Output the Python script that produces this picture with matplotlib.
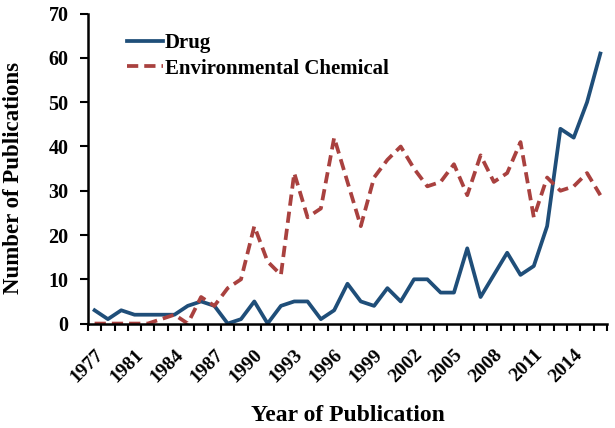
import matplotlib
matplotlib.use("Agg")
import matplotlib.pyplot as plt
import numpy as np

years = [1977] + list(range(1979, 2017))
drug = [3, 1, 3, 2, 2, 2, 2, 4, 5, 4, 0, 1, 5, 0, 4, 5, 5, 1, 3, 9,
        5, 4, 8, 5, 10, 10, 7, 7, 17, 6, 11, 16, 11, 13, 22, 44, 42, 50, 61]
env = [0, 0, 0, 0, 0, 1, 2, 0, 6, 4, 8, 10, 22, 14, 11, 34, 24, 26, 42, 32,
       22, 33, 37, 40, 35, 31, 32, 36, 29, 38, 32, 34, 41, 24, 33, 30, 31, 34, 29]
label_years = [1977, 1981, 1984, 1987, 1990, 1993, 1996, 1999, 2002, 2005, 2008, 2011, 2014]

plt.rcParams['font.family'] = ['Liberation Serif', 'DejaVu Serif']
plt.rcParams['font.weight'] = 'bold'

fig = plt.figure(figsize=(6.15, 4.28), dpi=100)
ax = fig.add_axes([0.143, 0.244, 0.844, 0.724])

x = np.arange(len(years))
blue = '#1F4E79'
red = '#A9413F'
ax.plot(x, drug, color=blue, lw=2.7, label='Drug')
ax.plot(x, env, color=red, lw=2.7, ls=(0, (3, 1.6)), label='Environmental Chemical')

ax.set_xlim(-0.5, len(years) - 0.5)
ax.set_ylim(0, 70)
ax.set_yticks(range(0, 71, 10))
ax.tick_params(axis='y', direction='out', length=5.5, width=1.5, labelsize=14.5, pad=8.5)

pos = [years.index(y) for y in label_years]
ax.set_xticks(pos)
ax.set_xticklabels([str(y) for y in label_years], rotation=45, ha='right',
                   rotation_mode='anchor', fontsize=14, fontweight='bold')
ax.tick_params(axis='x', which='major', length=0, pad=16)
ax.set_xticks(np.arange(-0.5, len(years), 1), minor=True)
ax.tick_params(axis='x', which='minor', direction='out', length=5, width=1.5)

for s in ['top', 'right']:
    ax.spines[s].set_visible(False)
for s in ['left', 'bottom']:
    ax.spines[s].set_linewidth(1.8)

for t in ax.get_yticklabels():
    t.set_fontweight('bold')

ax.set_xlabel('Year of Publication', fontsize=17, fontweight='bold')
ax.xaxis.set_label_coords(0.5, -0.263)
ax.set_ylabel('Number of Publications', fontsize=16.5, fontweight='bold')
ax.yaxis.set_label_coords(-0.123, 0.469)

leg = ax.legend(loc='upper left', bbox_to_anchor=(0.2065, 0.923), bbox_transform=fig.transFigure,
                frameon=False, fontsize=15, handlelength=1.73, handletextpad=0.1,
                labelspacing=0.28, borderaxespad=0, borderpad=0)
for t in leg.get_texts():
    t.set_fontweight('bold')

fig.savefig('out.png', dpi=100)
